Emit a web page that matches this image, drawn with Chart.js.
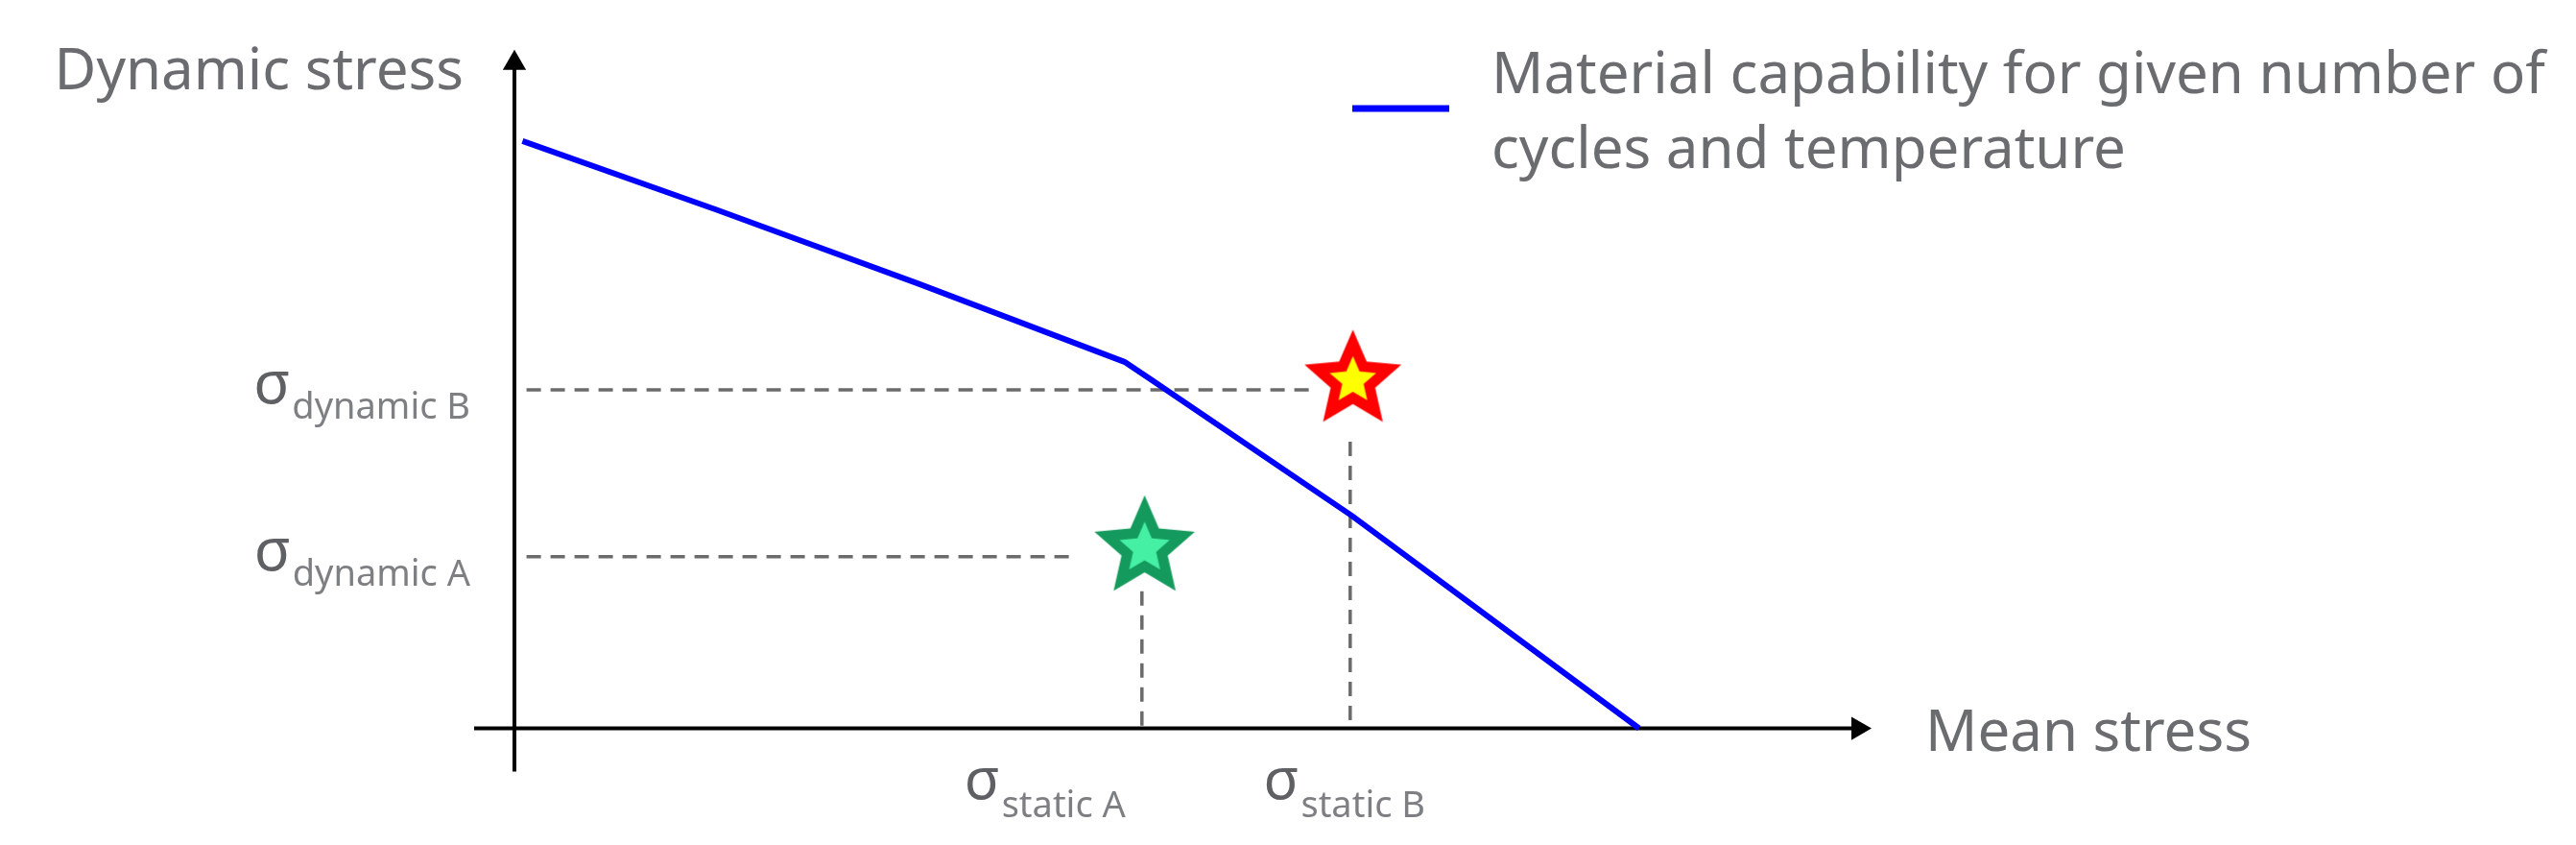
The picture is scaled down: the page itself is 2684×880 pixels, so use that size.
<!DOCTYPE html>
<html>
<head>
<meta charset="utf-8">
<title>Material capability</title>
<script src="https://cdn.jsdelivr.net/npm/chart.js@4.4.1/dist/chart.umd.min.js"></script>
<style>
  html, body { margin: 0; padding: 0; background: #fff; }
  canvas { display: block; }
</style>
</head>
<body>
<canvas id="grafico" width="2684" height="880"></canvas>
<script>
// values in arbitrary units, origin where the two axes cross
var curveX = [0.6, 15, 30, 45.4, 47.4, 62.3, 83.7];
var curveY = [88.3, 78.0, 66.9, 55.1, 52.4, 32.0, 0];

// the two load cases (stars)
var pointNames = ["A", "B"];
var starX = [46.9, 62.4];
var starY = [27.1, 52.3];

// dashed guide lines
var staticValues = [46.7, 62.2];
var dynamicValues = [25.8, 50.9];
var guideStart = 0.9;
var horizontalEnd = [41.7, 59.8];
var verticalStart = [20.6, 43.1];
var verticalEnd = 0.2;

// axis lines
var xAxisRange = [-3, 100];
var yAxisRange = [-6.5, 100];

// texts
var xTitle = "Mean stress";
var yTitle = "Dynamic stress";
var staticLabels = ["static A", "static B"];
var dynamicLabels = ["dynamic A", "dynamic B"];
var legendLines = ["Material capability for given number of", "cycles and temperature"];

var textColor = "#6b6c70";
var sigmaColor = "#5f6064";
var subColor = "#7e7f83";
var dashColor = "#6b6b6b";

// star image used as point style
function makeStar(radius, outerColor, innerColor, innerScale) {
  var c = document.createElement("canvas");
  c.width = radius * 2 + 4;
  c.height = radius * 2 + 4;
  var g = c.getContext("2d");
  var cx = c.width / 2, cy = c.height / 2;
  function starPath(r) {
    g.beginPath();
    for (var i = 0; i < 10; i++) {
      var ang = -Math.PI / 2 + i * Math.PI / 5;
      var rr = i % 2 === 0 ? r : r * 0.46;
      g.lineTo(cx + Math.cos(ang) * rr, cy + Math.sin(ang) * rr);
    }
    g.closePath();
  }
  starPath(radius);
  g.fillStyle = outerColor;
  g.fill();
  starPath(radius * innerScale);
  g.fillStyle = innerColor;
  g.fill();
  return c;
}

var greenStar = makeStar(55, "#149a5c", "#45f0a5", 0.5);
var redStar = makeStar(53, "#ff0000", "#ffff00", 0.48);

function linha(pontos, cor, largura, tracejado) {
  return {
    data: pontos,
    showLine: true,
    borderColor: cor,
    borderWidth: largura,
    borderDash: tracejado || [],
    pointRadius: 0,
    tension: 0,
    clip: false
  };
}

var datasets = [];

// stars on top
datasets.push({
  label: "load cases",
  data: pointNames.map(function(n, i) { return { x: starX[i], y: starY[i] }; }),
  pointStyle: [greenStar, redStar],
  pointRadius: 10,
  clip: false
});

// material capability curve
var curva = linha(curveX.map(function(x, i) { return { x: x, y: curveY[i] }; }), "#0000ff", 6);
curva.label = legendLines.join(" ");
curva.borderJoinStyle = "round";
datasets.push(curva);

// dashed guides
for (var i = 0; i < pointNames.length; i++) {
  datasets.push(linha([{ x: guideStart, y: dynamicValues[i] }, { x: horizontalEnd[i], y: dynamicValues[i] }], dashColor, 3.5, [15, 10]));
  datasets.push(linha([{ x: staticValues[i], y: verticalStart[i] }, { x: staticValues[i], y: verticalEnd }], dashColor, 3.5, [15, 10]));
}

// axes with arrow heads
var eixoX = linha([{ x: xAxisRange[0], y: 0 }, { x: xAxisRange[1], y: 0 }], "#000", 4);
eixoX.pointRadius = [0, 14];
eixoX.pointStyle = "triangle";
eixoX.pointRotation = 90;
eixoX.pointBackgroundColor = "#000";
eixoX.pointBorderWidth = 0;
datasets.push(eixoX);

var eixoY = linha([{ x: 0, y: yAxisRange[0] }, { x: 0, y: yAxisRange[1] }], "#000", 4);
eixoY.pointRadius = [0, 14];
eixoY.pointStyle = "triangle";
eixoY.pointRotation = 0;
eixoY.pointBackgroundColor = "#000";
eixoY.pointBorderWidth = 0;
datasets.push(eixoY);

// texts: axis titles, sigma labels and the legend
var textos = {
  id: "textos",
  afterDraw: function(chart) {
    var c = chart.ctx;
    var sx = chart.scales.x, sy = chart.scales.y;
    var x0 = sx.getPixelForValue(0);
    var y0 = sy.getPixelForValue(0);
    c.save();
    c.textBaseline = "alphabetic";

    c.font = "60px 'Noto Sans'";
    c.fillStyle = textColor;
    c.textAlign = "right";
    c.fillText(yTitle, x0 - 53, sy.getPixelForValue(yAxisRange[1]) + 27);
    c.textAlign = "left";
    c.fillText(xTitle, sx.getPixelForValue(xAxisRange[1]) + 70, y0 + 23);

    c.textAlign = "left";
    for (var i = 0; i < dynamicLabels.length; i++) {
      var y = sy.getPixelForValue(dynamicValues[i]);
      c.font = "38px 'Noto Sans'";
      var wSub = c.measureText(dynamicLabels[i]).width;
      c.font = "62px 'Noto Sans'";
      var wSig = c.measureText("σ").width;
      var left = x0 - 46 - wSub - 2 - wSig;
      c.fillStyle = sigmaColor;
      c.fillText("σ", left, y + 14);
      c.font = "38px 'Noto Sans'";
      c.fillStyle = subColor;
      c.fillText(dynamicLabels[i], left + wSig + 2, y + 30);
    }

    for (var j = 0; j < staticLabels.length; j++) {
      var x = sx.getPixelForValue(staticValues[j]);
      c.font = "38px 'Noto Sans'";
      var ws = c.measureText(staticLabels[j]).width;
      c.font = "60px 'Noto Sans'";
      var wg = c.measureText("σ").width;
      var total = wg + 2 + ws;
      var l = j === 0 ? x - 17 - total : x - 6 - total / 2;
      c.fillStyle = sigmaColor;
      c.fillText("σ", l, y0 + 73);
      c.font = "38px 'Noto Sans'";
      c.fillStyle = subColor;
      c.fillText(staticLabels[j], l + wg + 2, y0 + 92);
    }

    // legend
    c.strokeStyle = chart.data.datasets[1].borderColor;
    c.lineWidth = 7;
    c.beginPath();
    c.moveTo(1409, 113);
    c.lineTo(1510, 113);
    c.stroke();
    c.font = "60px 'Noto Sans'";
    c.fillStyle = textColor;
    c.textAlign = "left";
    c.fillText(legendLines[0], 1554, 97);
    c.fillText(legendLines[1], 1554, 175);
    c.restore();
  }
};

var ctx = document.getElementById("grafico").getContext("2d");

new Chart(ctx, {
  type: "scatter",
  data: { datasets: datasets },
  options: {
    responsive: false,
    animation: false,
    devicePixelRatio: 1,
    events: [],
    layout: { padding: { left: 494, right: 692, top: 52, bottom: 73 } },
    plugins: {
      legend: { display: false },
      tooltip: { enabled: false }
    },
    scales: {
      x: { type: "linear", min: -3, max: 104, display: false },
      y: { type: "linear", min: -7, max: 102, display: false }
    }
  },
  plugins: [textos]
});
</script>
</body>
</html>
